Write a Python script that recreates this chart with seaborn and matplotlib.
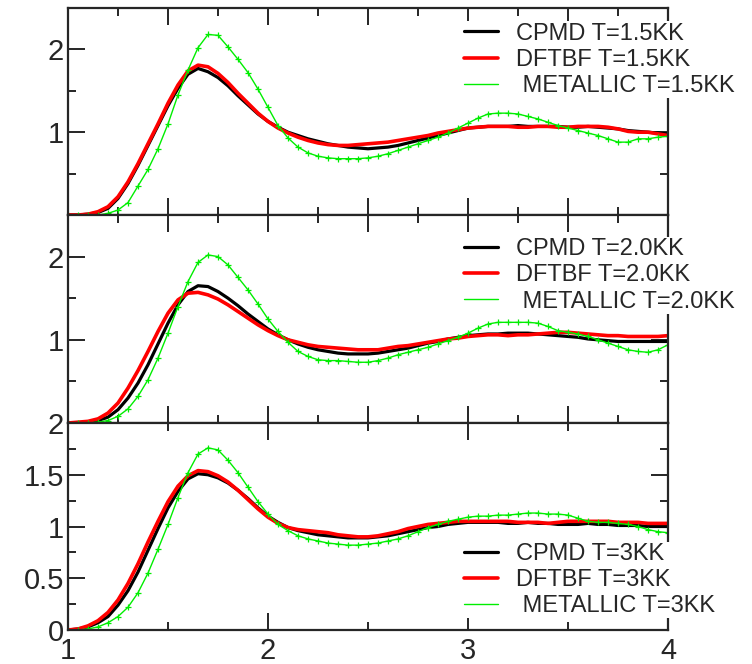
import numpy as np
import pandas as pd
import matplotlib
matplotlib.use("Agg")
import matplotlib.pyplot as plt
from matplotlib.lines import Line2D
from matplotlib.ticker import MultipleLocator, FixedLocator, FixedFormatter
import seaborn as sns

# Pair distance grid shared by all curves
r = [round(1.0 + 0.05 * i, 2) for i in range(61)]

# ---- T = 1.5 KK ----
cpmd_15 = [0, 0, 0.01, 0.03, 0.08, 0.2, 0.38, 0.6, 0.84, 1.08,
           1.32, 1.53, 1.7, 1.77, 1.73, 1.66, 1.56, 1.44, 1.33, 1.22,
           1.13, 1.06, 1.0, 0.96, 0.92, 0.89, 0.86, 0.84, 0.82, 0.81,
           0.8, 0.81, 0.82, 0.84, 0.87, 0.9, 0.93, 0.96, 0.99, 1.02,
           1.05, 1.06, 1.07, 1.07, 1.07, 1.08, 1.07, 1.07, 1.07, 1.07,
           1.06, 1.06, 1.07, 1.06, 1.05, 1.04, 1.02, 1.01, 1.0, 0.99, 0.98]
dftbf_15 = [0, 0, 0.01, 0.04, 0.1, 0.22, 0.4, 0.62, 0.86, 1.1,
            1.35, 1.57, 1.74, 1.81, 1.79, 1.71, 1.6, 1.47, 1.35, 1.23,
            1.13, 1.05, 0.99, 0.94, 0.9, 0.87, 0.85, 0.84, 0.84, 0.85,
            0.86, 0.87, 0.88, 0.9, 0.92, 0.94, 0.96, 0.99, 1.01, 1.03,
            1.05, 1.06, 1.07, 1.07, 1.07, 1.06, 1.06, 1.07, 1.07, 1.06,
            1.06, 1.07, 1.07, 1.07, 1.06, 1.04, 1.01, 1.0, 1.0, 0.98, 0.96]
metal_15 = [0, 0, 0, 0.0, 0.02, 0.06, 0.15, 0.35, 0.55, 0.8,
            1.1, 1.45, 1.75, 2.02, 2.18, 2.17, 2.03, 1.88, 1.72, 1.52,
            1.3, 1.08, 0.93, 0.82, 0.75, 0.71, 0.69, 0.68, 0.68, 0.68,
            0.69, 0.71, 0.74, 0.78, 0.82, 0.86, 0.9, 0.94, 0.99, 1.05,
            1.11, 1.17, 1.22, 1.23, 1.23, 1.22, 1.19, 1.16, 1.12, 1.08,
            1.05, 1.02, 0.99, 0.96, 0.92, 0.88, 0.88, 0.92, 0.92, 0.94, 0.95]

# ---- T = 2.0 KK ----
cpmd_20 = [0, 0, 0.01, 0.03, 0.07, 0.16, 0.3, 0.48, 0.7, 0.95,
           1.2, 1.42, 1.58, 1.65, 1.64, 1.58, 1.5, 1.41, 1.31, 1.22,
           1.13, 1.06, 1.0, 0.95, 0.91, 0.88, 0.86, 0.84, 0.83, 0.83,
           0.83, 0.84, 0.86, 0.88, 0.9, 0.93, 0.96, 0.98, 1.01, 1.03,
           1.05, 1.06, 1.07, 1.07, 1.08, 1.08, 1.08, 1.07, 1.06, 1.05,
           1.04, 1.03, 1.01, 1.0, 0.99, 0.98, 0.98, 0.98, 0.98, 0.98, 0.98]
dftbf_20 = [0, 0.01, 0.02, 0.05, 0.12, 0.24, 0.42, 0.63, 0.86, 1.1,
            1.32, 1.48, 1.56, 1.57, 1.54, 1.49, 1.42, 1.34, 1.26, 1.18,
            1.11, 1.05, 1.0, 0.97, 0.94, 0.92, 0.91, 0.9, 0.89, 0.88,
            0.88, 0.88, 0.9, 0.92, 0.93, 0.95, 0.97, 0.99, 1.01, 1.02,
            1.04, 1.05, 1.06, 1.06, 1.05, 1.06, 1.06, 1.07, 1.08, 1.09,
            1.09, 1.08, 1.07, 1.06, 1.05, 1.05, 1.04, 1.04, 1.04, 1.04, 1.05]
metal_20 = [0, 0, 0, 0.01, 0.03, 0.08, 0.17, 0.32, 0.52, 0.78,
            1.08, 1.4, 1.7, 1.93, 2.02, 2.0, 1.9, 1.75, 1.6, 1.43,
            1.25, 1.1, 0.97, 0.86, 0.8, 0.76, 0.75, 0.75, 0.74, 0.73,
            0.73, 0.75, 0.78, 0.82, 0.85, 0.88, 0.91, 0.95, 0.99, 1.03,
            1.08, 1.14, 1.19, 1.21, 1.21, 1.21, 1.21, 1.2, 1.16, 1.11,
            1.09, 1.07, 1.04, 1.0, 0.96, 0.92, 0.88, 0.86, 0.85, 0.88, 0.94]

# ---- T = 3 KK ----
cpmd_30 = [0, 0.01, 0.03, 0.07, 0.13, 0.24, 0.38, 0.56, 0.77, 0.98,
           1.18, 1.34, 1.46, 1.51, 1.5, 1.47, 1.42, 1.35, 1.27, 1.18,
           1.1, 1.04, 0.99, 0.96, 0.94, 0.92, 0.91, 0.9, 0.89, 0.89,
           0.89, 0.9, 0.91, 0.93, 0.95, 0.97, 0.99, 1.0, 1.02, 1.03,
           1.04, 1.04, 1.04, 1.04, 1.03, 1.03, 1.04, 1.03, 1.03, 1.02,
           1.02, 1.02, 1.03, 1.02, 1.02, 1.01, 1.01, 1.01, 1.0, 1.0, 1.0]
dftbf_30 = [0, 0.01, 0.04, 0.09, 0.17, 0.29, 0.45, 0.64, 0.85, 1.05,
            1.24, 1.39, 1.49, 1.54, 1.53, 1.49, 1.43, 1.35, 1.26, 1.17,
            1.09, 1.03, 0.99, 0.97, 0.96, 0.95, 0.94, 0.92, 0.91, 0.9,
            0.9, 0.91, 0.93, 0.95, 0.98, 1.0, 1.02, 1.03, 1.04, 1.05,
            1.05, 1.05, 1.05, 1.05, 1.05, 1.04, 1.04, 1.04, 1.03, 1.04,
            1.05, 1.05, 1.05, 1.05, 1.05, 1.04, 1.04, 1.04, 1.03, 1.03, 1.03]
metal_30 = [0, 0, 0.01, 0.03, 0.07, 0.13, 0.22, 0.36, 0.55, 0.78,
            1.02, 1.28, 1.52, 1.7, 1.76, 1.74, 1.64, 1.52, 1.38, 1.24,
            1.12, 1.02, 0.96, 0.91, 0.88, 0.86, 0.84, 0.83, 0.82, 0.82,
            0.83, 0.84, 0.86, 0.88, 0.91, 0.95, 0.99, 1.02, 1.05, 1.07,
            1.09, 1.1, 1.1, 1.11, 1.11, 1.12, 1.13, 1.13, 1.12, 1.12,
            1.11, 1.08, 1.05, 1.04, 1.04, 1.03, 1.02, 1.0, 0.97, 0.95, 0.94]

temps = ["1.5KK", "2.0KK", "3KK"]
series = {
    "1.5KK": (cpmd_15, dftbf_15, metal_15),
    "2.0KK": (cpmd_20, dftbf_20, metal_20),
    "3KK": (cpmd_30, dftbf_30, metal_30),
}
methods = ["CPMD", "DFTBF", "METALLIC"]

sns.set_style("ticks")
plt.rcParams["font.family"] = ["Liberation Sans", "DejaVu Sans"]

W, H = 752, 664
fig = plt.figure(figsize=(W / 100, H / 100), dpi=100)

x0, x1 = 68, 668
panels_px = [(8, 215), (215, 423), (423, 630)]
ylims = [2.5, 2.5, 2.0]
legend_tops = [0.935, 0.895, 0.427]

GREEN = "#00ee00"
styles = {
    "CPMD": dict(color="black", linewidth=2.3),
    "DFTBF": dict(color="#ff0000", linewidth=2.6),
    "METALLIC": dict(color=GREEN, linewidth=1.0, marker="+",
                     markersize=4.5, markeredgewidth=0.9,
                     markeredgecolor=GREEN, markerfacecolor=GREEN),
}

for i, (t, (ytop, ybot)) in enumerate(zip(temps, panels_px)):
    ax = fig.add_axes([x0 / W, 1 - ybot / H, (x1 - x0) / W, (ybot - ytop) / H])
    df = pd.DataFrame({"r": r * 3,
                       "g": list(series[t][0]) + list(series[t][1]) + list(series[t][2]),
                       "method": [m for m in methods for _ in r]})
    for m in methods:
        sub = df[df["method"] == m]
        sns.lineplot(data=sub, x="r", y="g", ax=ax, legend=False, **styles[m])

    ax.set_xlim(1, 4)
    ax.set_ylim(0, ylims[i])
    ax.set_xlabel("")
    ax.set_ylabel("")

    for s in ax.spines.values():
        s.set_linewidth(1.6)
        s.set_visible(True)

    if i < 2:
        ax.xaxis.set_major_locator(MultipleLocator(0.5))
        ax.xaxis.set_minor_locator(MultipleLocator(0.25))
        ax.set_xticklabels([])
        ax.yaxis.set_major_locator(FixedLocator([0, 1, 2]))
        ax.yaxis.set_major_formatter(FixedFormatter(["", "1", "2"]))
        ax.yaxis.set_minor_locator(FixedLocator([0.5, 1.5]))
    else:
        ax.xaxis.set_major_locator(FixedLocator([1, 2, 3, 4]))
        ax.xaxis.set_major_formatter(FixedFormatter(["1", "2", "3", "4"]))
        ax.xaxis.set_minor_locator(FixedLocator([1.5, 2.5, 3.5]))
        ax.yaxis.set_major_locator(FixedLocator([0, 0.5, 1, 1.5, 2]))
        ax.yaxis.set_major_formatter(FixedFormatter(["0", "0.5", "1", "1.5", "2"]))
        ax.yaxis.set_minor_locator(FixedLocator([0.25, 0.75, 1.25, 1.75]))

    ax.tick_params(which="both", direction="in", top=True, right=True,
                   labelsize=21, pad=3, width=1.2, color="black")
    ax.tick_params(which="major", length=12)
    ax.tick_params(which="minor", length=6)
    ax.tick_params(axis="x", pad=5)

    handles = [Line2D([], [], color=styles[m]["color"],
                      linewidth=styles[m]["linewidth"]) for m in methods]
    labels = [f"CPMD T={t}", f"DFTBF T={t}", f" METALLIC T={t}"]
    leg = ax.legend(handles, labels, loc="upper left",
                    bbox_to_anchor=(0.658, legend_tops[i]), frameon=True,
                    fontsize=17, handlelength=1.45, handletextpad=0.75,
                    labelspacing=0.18, borderpad=0.05, borderaxespad=0,
                    fancybox=False)
    leg.get_frame().set_facecolor("white")
    leg.get_frame().set_edgecolor("none")
    leg.get_frame().set_alpha(1.0)
    leg.set_zorder(10)

fig.savefig("out.png", dpi=100)
